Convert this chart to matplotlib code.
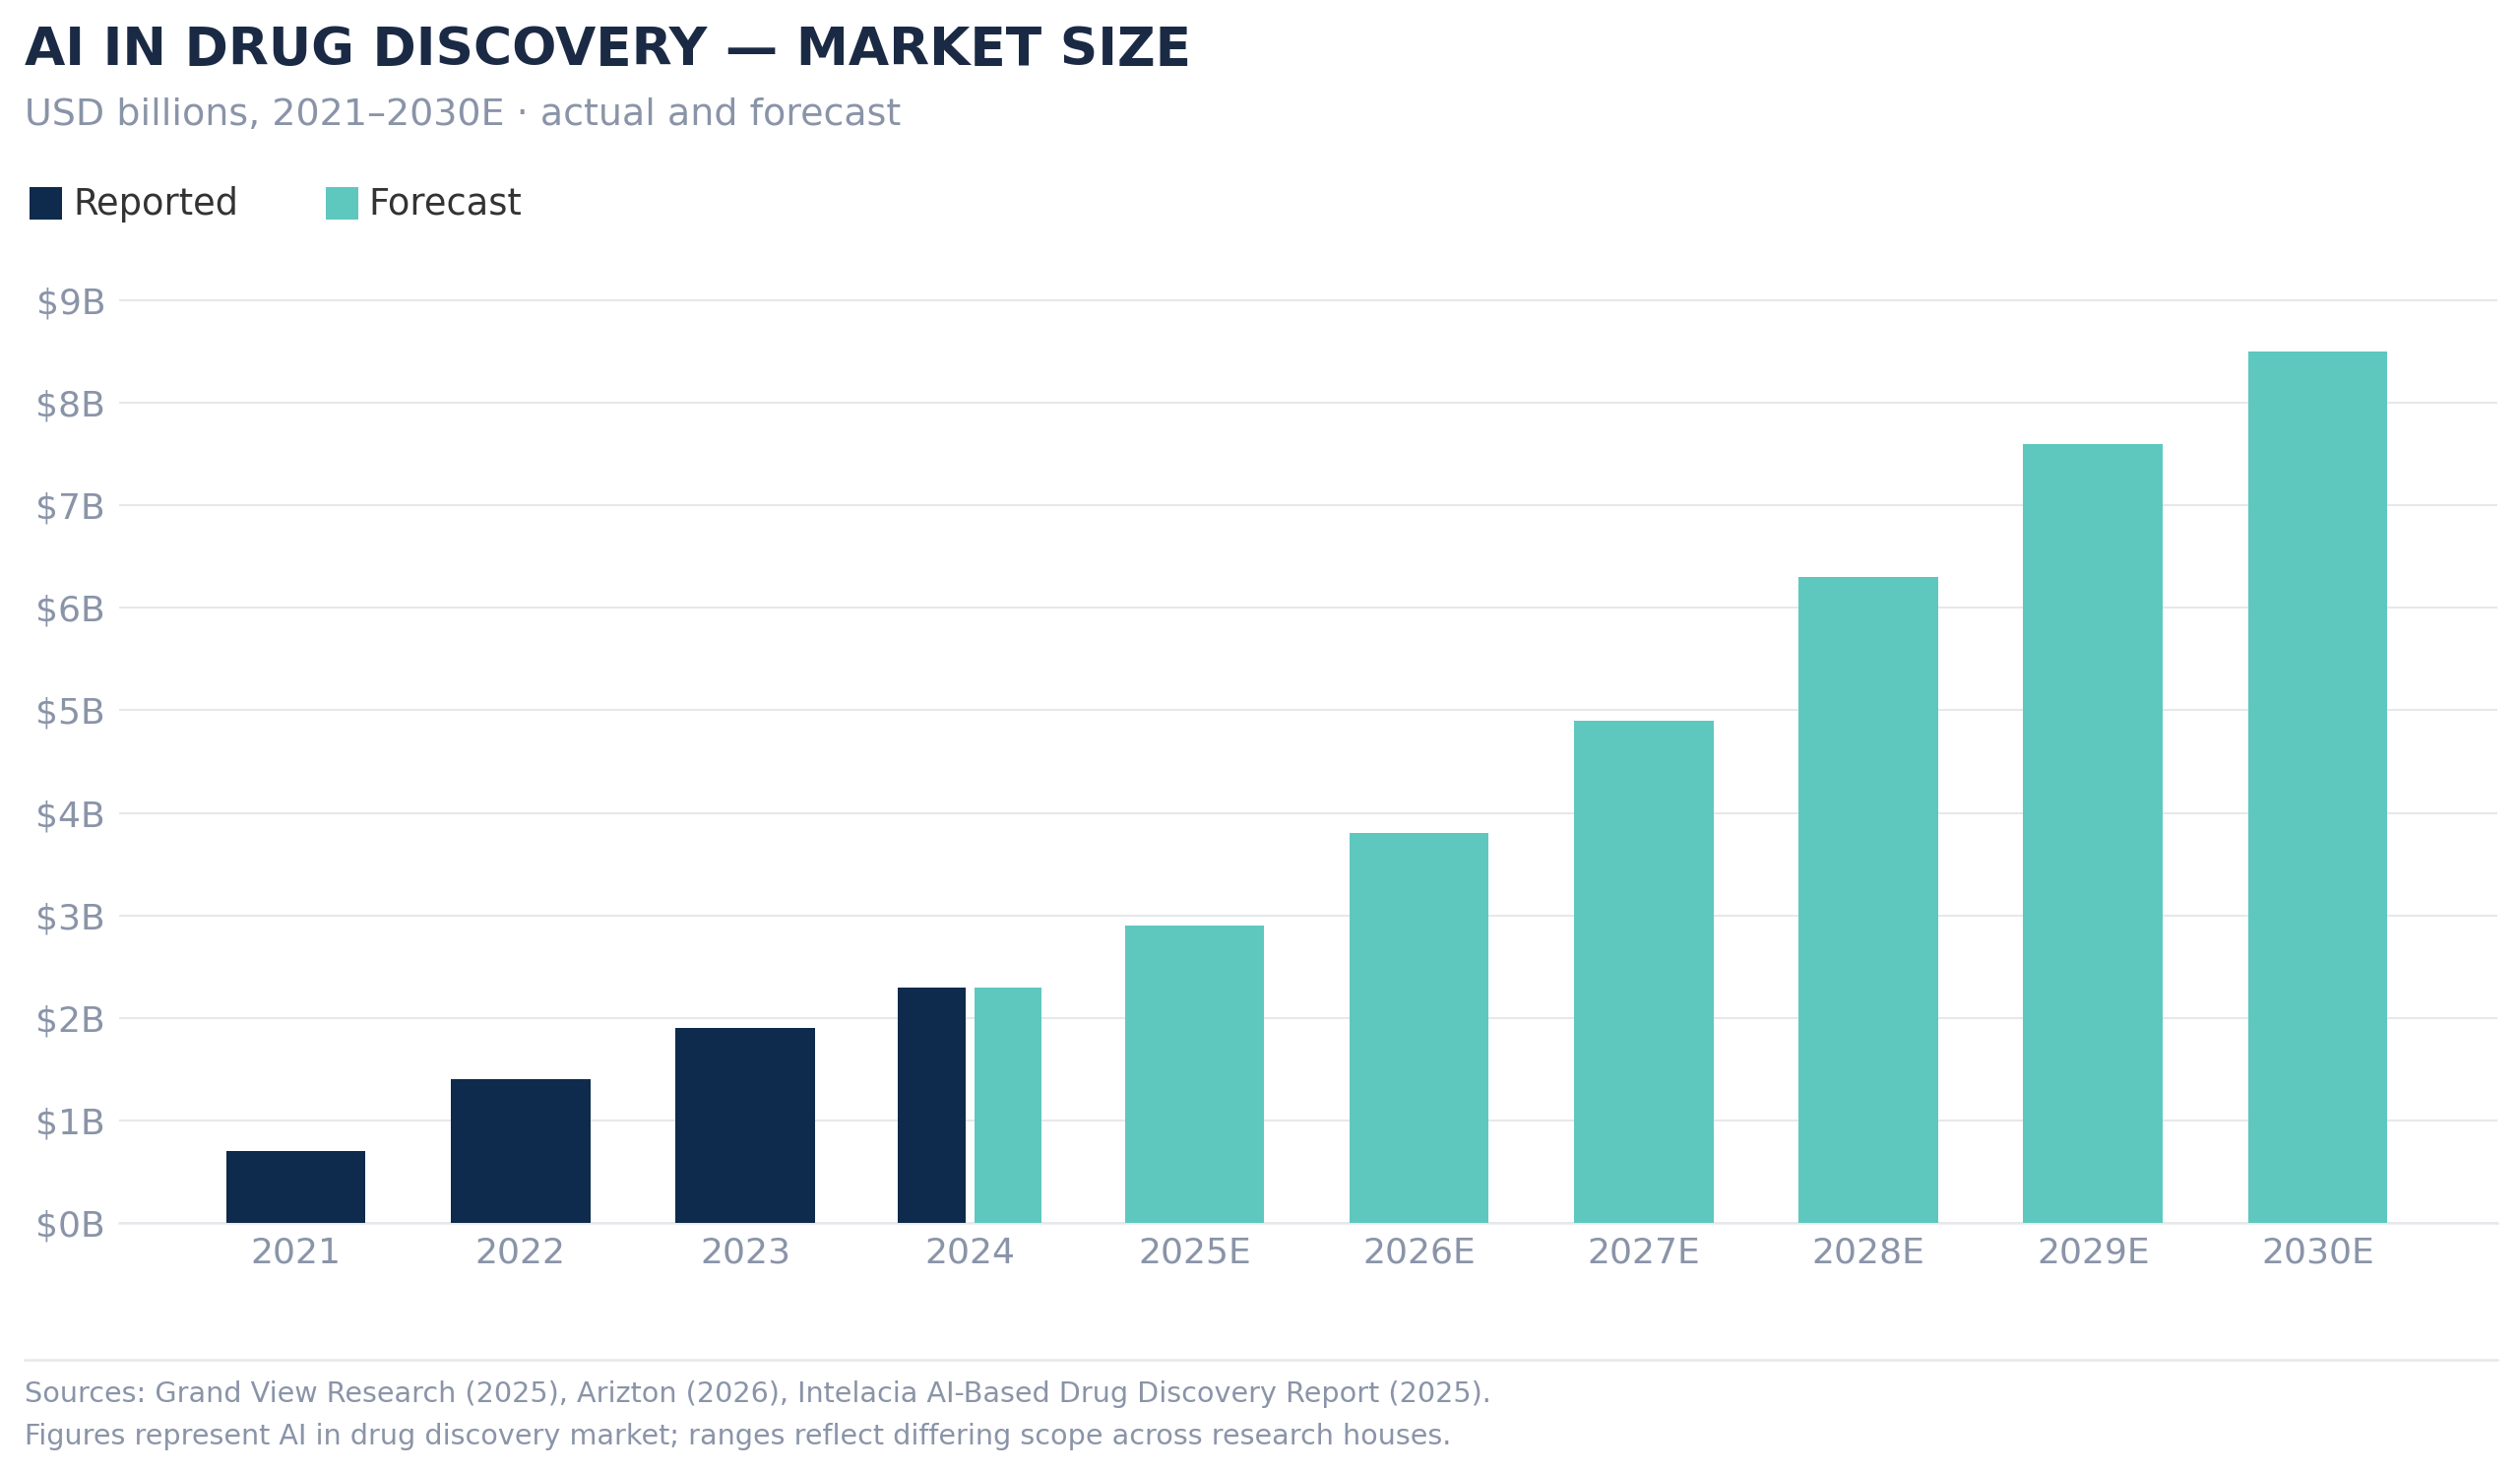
import numpy as np
import matplotlib
matplotlib.use('Agg')
import matplotlib.pyplot as plt
from matplotlib.patches import Rectangle
from matplotlib.lines import Line2D
from matplotlib.ticker import FuncFormatter

# Du lieu thi truong (USD ty)
years = ['2021', '2022', '2023', '2024', '2025E', '2026E', '2027E', '2028E', '2029E', '2030E']
reported = [0.7, 1.4, 1.9, 2.3, None, None, None, None, None, None]
forecast = [None, None, None, 2.3, 2.9, 3.8, 4.9, 6.3, 7.6, 8.5]
y_ticks = [0, 1, 2, 3, 4, 5, 6, 7, 8, 9]

NAVY = '#0e2a4c'
TEAL = '#5ec8bf'
TITLE_C = '#1b2a44'
GRAY = '#8a94a8'
GRID = '#e6e8eb'

W, H = 2560, 1496
fig = plt.figure(figsize=(W / 100, H / 100), dpi=100)
fig.patch.set_facecolor('white')

ax = fig.add_axes([121 / W, 254 / H, (2537 - 121) / W, (1242 - 284.2) / H])

full_w = 0.62
half_w = 0.30
off = 0.17
x = np.arange(len(years))
for i, (r, f) in enumerate(zip(reported, forecast)):
    if r is not None and f is not None:
        ax.bar(x[i] - off, r, width=half_w, color=NAVY, zorder=3)
        ax.bar(x[i] + off, f, width=half_w, color=TEAL, zorder=3)
    elif r is not None:
        ax.bar(x[i], r, width=full_w, color=NAVY, zorder=3)
    elif f is not None:
        ax.bar(x[i], f, width=full_w, color=TEAL, zorder=3)

ax.set_xlim(-0.787, 9.80)
ax.set_ylim(0, 9.2)
ax.set_yticks(y_ticks)
ax.yaxis.set_major_formatter(FuncFormatter(lambda v, p: f'${v:.0f}B'))
ax.set_xticks(x)
ax.set_xticklabels(years)
ax.tick_params(axis='both', length=0, labelsize=26, labelcolor=GRAY)
ax.tick_params(axis='y', pad=10)
ax.tick_params(axis='x', pad=10)
ax.yaxis.grid(True, color=GRID, linewidth=1.5, zorder=0)
ax.set_axisbelow(True)
for s in ['top', 'right', 'left']:
    ax.spines[s].set_visible(False)
ax.spines['bottom'].set_color(GRID)
ax.spines['bottom'].set_linewidth(1.8)

# Tieu de
fig.text(25 / W, 1 - 66 / H, 'AI IN DRUG DISCOVERY — MARKET SIZE', fontsize=38.4,
         fontweight='bold', color=TITLE_C, ha='left', va='baseline')
fig.text(25 / W, 1 - 127 / H, 'USD billions, 2021–2030E · actual and forecast', fontsize=27.4,
         color=GRAY, ha='left', va='baseline')

# Chu giai
leg_items = [('Reported', NAVY, 30, 74), ('Forecast', TEAL, 331, 374)]
for label, col, sx, tx in leg_items:
    fig.patches.append(Rectangle((sx / W, 1 - 223 / H), 33 / W, 33 / H, transform=fig.transFigure,
                                 facecolor=col, edgecolor='none'))
    fig.text(tx / W, 1 - 207 / H, label, fontsize=26.5, color='#333333', ha='left', va='center')

# Chan trang
fig.add_artist(Line2D([25 / W, 2537 / W], [1 - 1381 / H, 1 - 1381 / H], transform=fig.transFigure,
                      color=GRID, linewidth=1.8))
fig.text(25 / W, 1 - 1424 / H,
         'Sources: Grand View Research (2025), Arizton (2026), Intelacia AI-Based Drug Discovery Report (2025).',
         fontsize=20.6, color=GRAY, ha='left', va='baseline')
fig.text(25 / W, 1 - 1467 / H,
         'Figures represent AI in drug discovery market; ranges reflect differing scope across research houses.',
         fontsize=20.6, color=GRAY, ha='left', va='baseline')

fig.savefig('out.png', dpi=100, facecolor='white')
